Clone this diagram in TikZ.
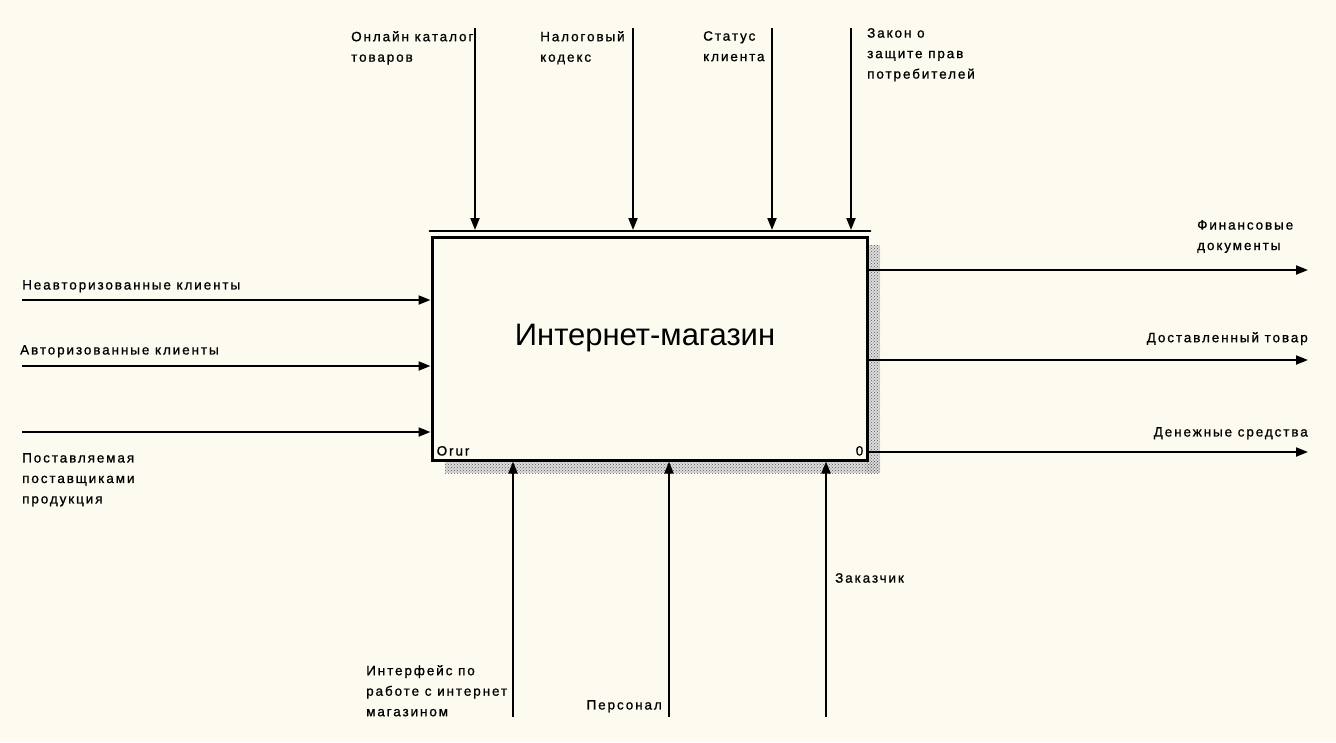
\documentclass[tikz,border=0pt]{standalone}
\usepackage{fontspec}
\setmainfont{Liberation Sans}
\newfontfamily\idefont[LetterSpace=14,FakeBold=0.9]{Liberation Sans}
\usetikzlibrary{arrows.meta,positioning,patterns}
\definecolor{idPaper}{HTML}{FDFBF0}
\definecolor{idHatch}{HTML}{9A9A9A}

\begin{document}
\begin{tikzpicture}[x=1pt,y=-1pt,font=\idefont\fontsize{13.5}{20.5}\selectfont,
      flow/.style={draw,line width=2pt,-{Triangle[length=12pt,width=9pt]}},
      lbl/.style={inner sep=0pt,align=left},
      actbox/.style={draw,line width=3pt,minimum width=435pt,
                     minimum height=223pt,inner sep=0pt}]

    \fill[idPaper] (0,0) rectangle (1336,742);
    \useasboundingbox (0,0) rectangle (1336,742);

    % shadow of the activity
    \fill[idHatch!35] (866,245) rectangle (880,473);
    \fill[idHatch!35] (445,460) rectangle (880,473);
    \fill[pattern=crosshatch dots,pattern color=black!65] (866,245) rectangle (880,473);
    \fill[pattern=crosshatch dots,pattern color=black!65] (445,460) rectangle (880,473);

    \node[actbox,fill=idPaper] (shop) at (649.5,348.5) {};
    \node[anchor=base,font=\normalfont\fontsize{31}{31}\selectfont] (title) at (645,345)
      {Интернет-магазин};
    \node[lbl,anchor=base west] (num) at ([xshift=6pt,yshift=6pt]shop.south west) {Orur};
    \node[lbl,anchor=base east] (pos) at ([xshift=-5pt,yshift=6pt]shop.south east) {0};

    \coordinate (rim) at ([yshift=4.5pt]shop.north);
    \draw[line width=1.8pt,line cap=round] ([xshift=-1pt]rim -| shop.west) -- ([xshift=2pt]rim -| shop.east);

    % controls
    \coordinate (t1) at (475,28);
    \coordinate (t2) at (633,28);
    \coordinate (t3) at (772,28);
    \coordinate (t4) at (851,28);
    \foreach \c in {t1,t2,t3,t4}
      \draw[flow] (\c) -- ([yshift=1pt]\c |- rim);

    \node[lbl,anchor=north west] (lcat) at (351,31) {Онлайн каталог\\товаров};
    \node[lbl,anchor=north west] (ltax) at (540,31) {Налоговый\\кодекс};
    \node[lbl,anchor=north west] (lstat) at (703,31) {Статус\\клиента};
    \node[lbl,anchor=north west] (llaw) at (867,28) {Закон о\\защите прав\\потребителей};

    % inputs
    \coordinate (i1) at (22,300);
    \coordinate (i2) at (22,366);
    \coordinate (i3) at (22,432);
    \foreach \c in {i1,i2,i3}
      \draw[flow] (\c) -- (\c -| shop.west);

    \node[lbl,anchor=north west] (lunauth) at (22,280) {Неавторизованные клиенты};
    \node[lbl,anchor=north west] (lauth) at (20,345) {Авторизованные клиенты};
    \node[lbl,anchor=north west] (lgoods) at (22,453) {Поставляемая\\поставщиками\\продукция};

    % outputs
    \coordinate (o1) at (1308,270);
    \coordinate (o2) at (1308,360);
    \coordinate (o3) at (1308,452);
    \foreach \c in {o1,o2,o3}
      \draw[flow] (\c -| shop.east) -- (\c);

    \node[lbl,anchor=north west] (lfin) at (1197,220) {Финансовые\\документы};
    \node[lbl,anchor=north east] (ldeliv) at (1308,332) {Доставленный товар};
    \node[lbl,anchor=north east] (lmoney) at (1308,427) {Денежные средства};

    % mechanisms
    \coordinate (m1) at (513,717);
    \coordinate (m2) at (669,717);
    \coordinate (m3) at (826,717);
    \foreach \c in {m1,m2,m3}
      \draw[flow] (\c) -- (\c |- shop.south);

    \node[lbl,anchor=north west] (liface) at (366,665) {Интерфейс по\\работе с интернет\\магазином};
    \node[lbl,anchor=north east] (lstaff) at (662,700) {Персонал};
    \node[lbl,anchor=north west] (lcust) at (835,573) {Заказчик};
  \end{tikzpicture}
\end{document}
